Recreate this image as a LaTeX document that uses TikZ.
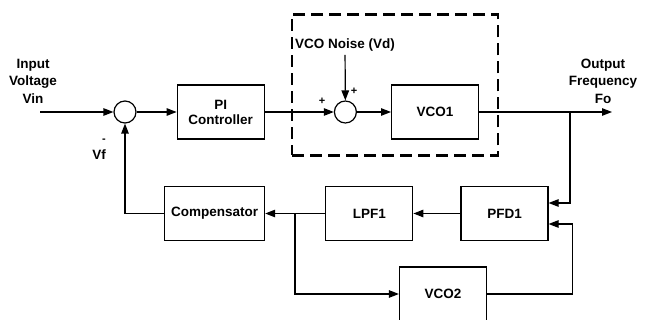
\documentclass[tikz,border=0pt]{standalone}
\usepackage{fontspec}
\setmainfont{Liberation Sans}
\usetikzlibrary{positioning,arrows.meta}

\begin{document}
\begin{tikzpicture}[
    x=1pt, y=-1pt,
    font=\fontsize{13.5}{17.5}\selectfont\bfseries,
    box/.style={draw, line width=1.2pt, minimum width=87pt, minimum height=54pt, align=center, inner sep=0pt, font=\fontsize{13.5}{15}\selectfont\bfseries},
    sumnode/.style={draw, circle, line width=1.2pt, minimum size=22pt, inner sep=0pt},
    arrow/.style={-{Triangle[length=10pt,width=7.5pt]}, line width=1.2pt},
    sign/.style={inner sep=0pt, font=\fontsize{11}{11}\selectfont\bfseries},
]
    \useasboundingbox (0,0) rectangle (648,320);

    % forward path
    \node[sumnode] (sum1) at (125,112) {};
    \node[box, right=40pt of sum1] (pi) {PI\\Controller};
    \node[sumnode, right=69pt of pi] (sum2) {};
    \node[box, right=34pt of sum2] (vco1) {VCO1};
    \node[draw, line width=2.3pt, dash pattern=on 12pt off 6pt, minimum width=206pt, minimum height=141pt] (vcoblock) at (395,85) {};

    % feedback path
    \node[box] (pfd) at (504.5,213.5) {PFD1};
    \node[box, left=47pt of pfd] (lpf) {LPF1};
    \node[box, minimum width=100pt, left=60pt of lpf] (comp) {Compensator};
    \node[box] (vco2) at (443,294) {VCO2};

    % labels
    \node[align=center] (vin) at (33,81) {Input\\Voltage\\Vin};
    \node[align=center] (fo) at (603,81) {Output\\Frequency\\Fo};
    \node (noise) at (345,45) {VCO Noise (Vd)};
    \node (vf) at (99,155) {Vf};
    \node[sign] (minus) at (104,141) {-};
    \node[sign] (plusa) at (322,101) {+};
    \node[sign] (plusb) at (354,91) {+};

    \coordinate (vinstart) at (40,112);
    \coordinate (fobr) at (570,112);
    \coordinate (foend) at (612,112);
    \coordinate (lpfbr) at (295,213.5);

    \draw[arrow] (vinstart) -- (sum1);
    \draw[arrow] (sum1) -- (pi);
    \draw[arrow] (pi) -- (sum2);
    \draw[arrow] (noise) -- (sum2);
    \draw[arrow] (sum2) -- (vco1);
    \draw[arrow] (vco1) -- (foend);
    \draw[arrow] (fobr) |- ([yshift=10.5pt]pfd.east);
    \draw[arrow] (vco2.east) -- ++(85,0) |- ([yshift=-10.5pt]pfd.east);
    \draw[arrow] (pfd) -- (lpf);
    \draw[arrow] (lpf) -- (comp);
    \draw[arrow] (comp.west) -| (sum1.south);
    \draw[arrow] (lpfbr) |- (vco2.west);
\end{tikzpicture}
\end{document}
